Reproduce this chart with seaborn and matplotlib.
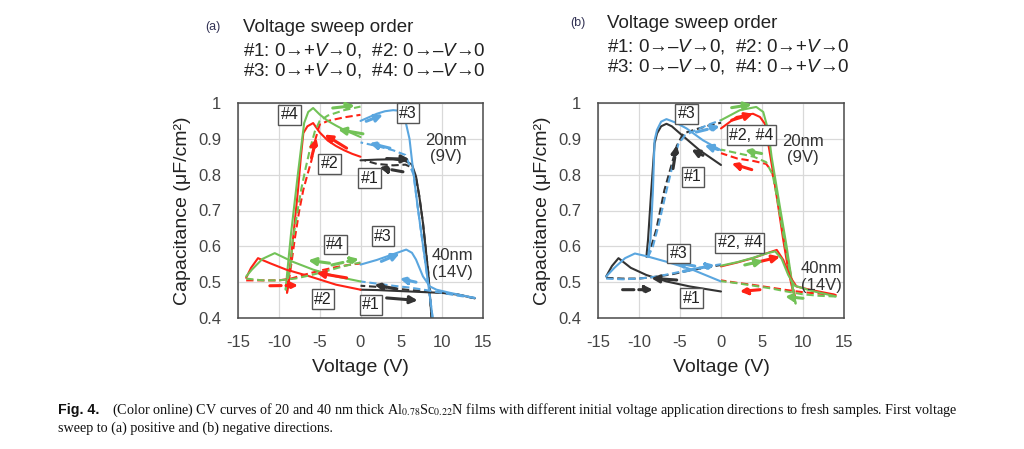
import matplotlib
matplotlib.use("Agg")
import matplotlib.pyplot as plt
import seaborn as sns

sns.set_theme(style="white")
plt.rcParams['font.family'] = ['Liberation Sans', 'DejaVu Sans']
plt.rcParams['axes.unicode_minus'] = False
plt.rcParams['mathtext.fontset'] = 'custom'
plt.rcParams['mathtext.rm'] = 'Liberation Sans'
plt.rcParams['mathtext.it'] = 'Liberation Sans:italic'

# colours of the sweeps #1..#4
col = {'k': '#333333', 'r': '#ff2215', 'b': '#5aa6df', 'g': '#72c257'}

# ---------------- panel (a) data ----------------
# each curve: forward sweep (solid) then return sweep (dashed)
a_curves = [
    # 20 nm, #1 black 0->+9->0
    ('k', [0, 2, 4, 5.5, 6.3, 6.8, 7.2, 7.65, 8.0, 8.3, 8.7, 9.0],
          [0.84, 0.842, 0.843, 0.838, 0.828, 0.795, 0.74, 0.665, 0.59, 0.526, 0.40, 0.34],
          [9.0, 8.7, 8.3, 7.65, 7.2, 6.8, 6.3, 5.5, 4, 2, 0.5],
          [0.34, 0.40, 0.526, 0.665, 0.74, 0.79, 0.82, 0.828, 0.826, 0.83, 0.84]),
    # 20 nm, #2 red 0->-9->0
    ('r', [0, -1, -2, -3, -4, -5, -5.8, -6.5, -7.0, -7.3, -7.65, -8.27, -8.7, -9.0],
          [0.85, 0.858, 0.868, 0.88, 0.895, 0.918, 0.944, 0.935, 0.916, 0.85, 0.758, 0.619, 0.53, 0.47],
          [-9.0, -8.6, -8.06, -7.5, -7.0, -6.5, -6.0, -5.5, -5.0, -4, -2, 0],
          [0.47, 0.53, 0.619, 0.70, 0.758, 0.80, 0.84, 0.90, 0.94, 0.95, 0.96, 0.967]),
    # 20 nm, #3 blue 0->+9->0
    ('b', [0, 1, 2, 3, 4, 5, 5.5, 6.0, 6.4, 7.0, 7.85, 8.5, 9.0],
          [0.95, 0.96, 0.97, 0.977, 0.98, 0.978, 0.95, 0.9, 0.82, 0.71, 0.57, 0.46, 0.37],
          [9.0, 8.5, 7.85, 7.0, 6.5, 5.5, 4, 2, 0],
          [0.37, 0.46, 0.57, 0.71, 0.80, 0.855, 0.868, 0.88, 0.89]),
    # 20 nm, #4 green 0->-9->0
    ('g', [0, -1, -2, -3, -4, -5, -5.8, -6.4, -6.9, -7.3, -7.65, -8.5, -8.9, -9.17],
          [0.905, 0.915, 0.925, 0.937, 0.95, 0.968, 0.986, 0.975, 0.944, 0.87, 0.805, 0.637, 0.544, 0.479],
          [-9.17, -8.6, -8.27, -7.7, -7.25, -6.7, -6.2, -5.6, -5.0, -4, -2, 0],
          [0.479, 0.54, 0.62, 0.70, 0.76, 0.82, 0.87, 0.92, 0.95, 0.965, 0.98, 0.99]),
    # 40 nm, #1 black 0->+14->0
    ('k', [0, 2, 4, 6, 8, 10, 12, 14],
          [0.479, 0.478, 0.476, 0.474, 0.472, 0.47, 0.465, 0.455],
          [14, 12, 10, 8, 6, 4, 2, 0],
          [0.455, 0.465, 0.47, 0.475, 0.478, 0.483, 0.487, 0.49]),
    # 40 nm, #2 red 0->-14->0
    ('r', [0, -3, -6.2, -9.1, -11.1, -12.55, -13.4, -14],
          [0.479, 0.493, 0.516, 0.535, 0.553, 0.567, 0.54, 0.512],
          [-14, -12, -10, -8.5, -7, -5, -3, -1, 0],
          [0.505, 0.505, 0.505, 0.51, 0.52, 0.532, 0.542, 0.55, 0.552]),
    # 40 nm, #3 blue 0->+14->0
    ('b', [0, 2, 4, 5.6, 6.3, 6.8, 7.65, 8.5, 9.3, 11, 14],
          [0.549, 0.562, 0.578, 0.591, 0.582, 0.563, 0.516, 0.488, 0.479, 0.47, 0.456],
          [14, 12, 10, 8, 6, 4, 2, 0],
          [0.456, 0.462, 0.47, 0.478, 0.485, 0.49, 0.496, 0.502]),
    # 40 nm, #4 green 0->-14->0
    ('g', [0, -3, -5.8, -8.3, -10.5, -12, -13.3, -14],
          [0.502, 0.516, 0.535, 0.557, 0.581, 0.565, 0.535, 0.516],
          [-14, -12, -10, -8, -6, -4, -2, 0],
          [0.51, 0.505, 0.505, 0.51, 0.52, 0.532, 0.545, 0.555]),
]

# arrows: colour, dashed?, start V, start C, end V, end C
a_arrows = [
    ('k', False, 3.2, 0.845, 6.0, 0.843), ('k', True, 5.2, 0.808, 2.3, 0.82),
    ('b', False, 0.7, 0.949, 2.75, 0.967), ('b', True, 3.6, 0.874, 1.1, 0.888),
    ('r', False, -1.7, 0.874, -4.4, 0.912), ('r', True, -6.0, 0.847, -5.4, 0.902),
    ('g', False, 0.3, 0.914, -2.75, 0.926), ('g', True, -3.4, 0.986, -0.7, 0.993),
    ('k', False, 3.2, 0.456, 7.0, 0.449), ('k', True, 4.4, 0.481, 1.7, 0.493),
    ('b', False, 2.55, 0.558, 4.8, 0.58), ('b', True, 6.8, 0.50, 4.8, 0.51),
    ('r', False, -1.7, 0.512, -5.4, 0.526), ('r', True, -11.1, 0.49, -7.65, 0.491),
    ('g', False, -3.8, 0.553, -6.4, 0.561), ('g', True, -3.5, 0.548, -0.2, 0.565),
]

a_boxes = [('#4', -8.7, 0.967), ('#3', 5.8, 0.972), ('#2', -3.8, 0.83), ('#1', 1.1, 0.79),
           ('#4', -3.1, 0.605), ('#3', 2.75, 0.628), ('#2', -4.6, 0.453), ('#1', 1.3, 0.437)]
a_notes = [('20nm\n(9V)', 10.5, 0.873), ('40nm\n(14V)', 11.3, 0.55)]

# ---------------- panel (b) data ----------------
b_curves = [
    # 20 nm, #1 black 0->-9->0
    ('k', [0, -2.6, -5, -6.0, -6.65, -7.3, -7.8, -8.1, -8.5, -8.9, -9.1],
          [0.827, 0.868, 0.915, 0.935, 0.942, 0.935, 0.915, 0.887, 0.757, 0.618, 0.571],
          [-9.1, -8.5, -7.9, -6.9, -6.0, -5.4, -4.6, -3, -1.5, 0],
          [0.571, 0.6, 0.646, 0.757, 0.83, 0.88, 0.915, 0.927, 0.937, 0.945]),
    # 20 nm, #2 red 0->+9->0
    ('r', [0, 1.9, 3.9, 4.75, 5.35, 5.76, 6.37, 6.98, 7.59, 8.2, 8.73, 9.0],
          [0.929, 0.961, 0.97, 0.961, 0.942, 0.887, 0.803, 0.711, 0.618, 0.534, 0.479, 0.46],
          [9.0, 8.5, 7.9, 7.3, 6.7, 6.2, 5.5, 4, 2, 0],
          [0.46, 0.52, 0.6, 0.68, 0.76, 0.81, 0.83, 0.838, 0.845, 0.86]),
    # 20 nm, #3 blue 0->-9->0
    ('b', [0, -2.2, -4.2, -5.5, -6.65, -7.3, -7.8, -8.1, -8.3, -8.6, -8.9],
          [0.868, 0.896, 0.929, 0.945, 0.955, 0.948, 0.925, 0.896, 0.757, 0.62, 0.57],
          [-8.9, -8.3, -7.6, -6.6, -5.8, -5.2, -4.4, -3, -1.5, 0],
          [0.57, 0.6, 0.66, 0.76, 0.835, 0.885, 0.91, 0.925, 0.94, 0.952]),
    # 20 nm, #4 green 0->+9->0
    ('g', [0, 2.3, 4.3, 5.15, 5.76, 6.17, 7.18, 8.0, 8.8, 9.1],
          [0.952, 0.98, 0.989, 0.975, 0.924, 0.85, 0.711, 0.6, 0.479, 0.44],
          [9.1, 8.6, 8.0, 7.4, 6.8, 6.3, 5.5, 4, 2, 0],
          [0.44, 0.5, 0.58, 0.66, 0.74, 0.8, 0.835, 0.85, 0.86, 0.87]),
    # 40 nm, #1 black 0->-14->0
    ('k', [0, -3.8, -6.65, -9.1, -11, -12.5, -13.3, -14],
          [0.474, 0.488, 0.502, 0.52, 0.54, 0.567, 0.545, 0.516],
          [-14, -12, -10, -8, -6, -4, -2, 0],
          [0.512, 0.51, 0.51, 0.515, 0.522, 0.532, 0.54, 0.548]),
    # 40 nm, #2 red 0->+14->0
    ('r', [0, 2, 3.9, 5.5, 6.8, 7.6, 8.4, 9.2, 11, 13.7, 14],
          [0.544, 0.555, 0.567, 0.58, 0.59, 0.562, 0.516, 0.488, 0.478, 0.466, 0.464],
          [14, 12, 10, 8, 6, 4, 2, 0],
          [0.464, 0.468, 0.472, 0.478, 0.485, 0.492, 0.498, 0.505]),
    # 40 nm, #3 blue 0->-14->0
    ('b', [0, -3.4, -6.65, -9, -10.5, -11.7, -13, -14],
          [0.502, 0.534, 0.557, 0.572, 0.58, 0.567, 0.54, 0.516],
          [-14, -12, -10, -8, -6, -4, -2, 0],
          [0.51, 0.508, 0.51, 0.515, 0.524, 0.534, 0.543, 0.55]),
    # 40 nm, #4 green 0->+14->0
    ('g', [0, 2, 3.9, 5.5, 6.6, 7.4, 8.2, 9.0, 11, 13.7, 14],
          [0.546, 0.556, 0.568, 0.58, 0.586, 0.565, 0.52, 0.49, 0.476, 0.462, 0.46],
          [14, 12, 10, 8, 6, 4, 2, 0],
          [0.46, 0.462, 0.466, 0.474, 0.483, 0.49, 0.497, 0.503]),
]

b_arrows = [
    ('k', False, -2.2, 0.854, -3.6, 0.87), ('k', True, -5.85, 0.817, -5.4, 0.882),
    ('b', False, -0.35, 0.87, -2.0, 0.882), ('b', True, -3.0, 0.919, -0.15, 0.935),
    ('r', False, 1.3, 0.952, 3.9, 0.97), ('r', True, 3.75, 0.814, 1.3, 0.831),
    ('g', False, 1.3, 0.987, 3.75, 0.996), ('g', True, 4.95, 0.859, 2.9, 0.868),
    ('k', False, -5.4, 0.506, -8.5, 0.511), ('k', True, -12.0, 0.479, -8.3, 0.479),
    ('b', False, -3.2, 0.545, -5.6, 0.555), ('b', True, -4.6, 0.53, -0.75, 0.548),
    ('r', False, 3.9, 0.553, 7.2, 0.571), ('r', True, 4.75, 0.479, 2.3, 0.474),
    ('g', False, 2.9, 0.548, 5.15, 0.56), ('g', True, 10.0, 0.455, 7.8, 0.46),
]

b_boxes = [('#3', -4.2, 0.97), ('#2, #4', 3.7, 0.91), ('#1', -3.4, 0.794),
           ('#3', -5.2, 0.58), ('#2, #4', 2.3, 0.61), ('#1', -3.6, 0.455)]
b_notes = [('20nm\n(9V)', 10.0, 0.87), ('40nm\n(14V)', 12.3, 0.515)]

x_ticks = [-15, -10, -5, 0, 5, 10, 15]
y_ticks = [0.4, 0.5, 0.6, 0.7, 0.8, 0.9, 1.0]
y_labels = ['0.4', '0.5', '0.6', '0.7', '0.8', '0.9', '1']

W, H = 1024, 449
fig = plt.figure(figsize=(W / 100, H / 100), dpi=100)


def draw_panel(rect, curves, arrows, boxes, notes):
    ax = fig.add_axes(rect)
    for c, vf, cf, vr, cr in curves:
        sns.lineplot(x=vf, y=cf, sort=False, estimator=None, color=col[c],
                     linewidth=1.5, ax=ax)
        sns.lineplot(x=vr, y=cr, sort=False, estimator=None, color=col[c],
                     linewidth=1.5, linestyle=(0, (3.5, 1.8)), ax=ax)
    for c, dsh, x0, y0, x1, y1 in arrows:
        ax.annotate('', xy=(x1, y1), xytext=(x0, y0),
                    arrowprops=dict(arrowstyle='-|>', color=col[c], lw=2.2,
                                    linestyle='--' if dsh else '-',
                                    mutation_scale=11, shrinkA=0, shrinkB=0))
    for t, x, y in boxes:
        ax.text(x, y, t, ha='center', va='center', fontsize=11.5, color='#222222',
                bbox=dict(boxstyle='square,pad=0.15', fc='white', ec='#555555', lw=1.0))
    for t, x, y in notes:
        ax.text(x, y, t, ha='center', va='center', fontsize=12, color='#333333',
                linespacing=1.15)
    ax.set_xlim(-15, 15)
    ax.set_ylim(0.4, 1.0)
    ax.set_xticks(x_ticks)
    ax.set_yticks(y_ticks)
    ax.set_yticklabels(y_labels)
    ax.tick_params(length=0, labelsize=12, colors='#444444', pad=12)
    ax.grid(True, color='#d9d9d9', lw=0.9)
    for s in ax.spines.values():
        s.set_color('#4a4a4a')
        s.set_linewidth(1.1)
    ax.set_xlabel('Voltage (V)', fontsize=14, color='#222222', labelpad=7)
    ax.set_ylabel('Capacitance (μF/cm²)', fontsize=14, color='#222222', labelpad=5)
    return ax


draw_panel([238 / W, 1 - 318 / H, 245 / W, 215 / H], a_curves, a_arrows, a_boxes, a_notes)
draw_panel([598 / W, 1 - 318 / H, 246 / W, 215 / H], b_curves, b_arrows, b_boxes, b_notes)

# headers
hdr = dict(fontsize=13.5, color='#222222', va='center', ha='left')
fig.text(205 / W, 1 - 27 / H, '(a)', fontsize=9, color='#333355', va='center')
fig.text(243 / W, 1 - 27 / H, 'Voltage sweep order', **hdr)
fig.text(243 / W, 1 - 50 / H, '#1: 0→+$V$→0,  #2: 0→–$V$→0', **hdr)
fig.text(243 / W, 1 - 71 / H, '#3: 0→+$V$→0,  #4: 0→–$V$→0', **hdr)
fig.text(570 / W, 1 - 23 / H, '(b)', fontsize=9, color='#333355', va='center')
fig.text(607 / W, 1 - 23 / H, 'Voltage sweep order', **hdr)
fig.text(607 / W, 1 - 46 / H, '#1: 0→–$V$→0,  #2: 0→+$V$→0', **hdr)
fig.text(607 / W, 1 - 67 / H, '#3: 0→–$V$→0,  #4: 0→+$V$→0', **hdr)

# caption
cap = dict(fontsize=10.2, color='#111111', va='center', ha='left',
           family=['Liberation Serif', 'DejaVu Serif'], math_fontfamily='stix')
fig.text(58 / W, 1 - 410 / H, 'Fig. 4.', weight='bold', fontsize=10.2, color='#111111',
         va='center', ha='left')
fig.text(112 / W, 1 - 410 / H,
         '(Color online) CV curves of 20 and 40 nm thick Al$_{0.78}$Sc$_{0.22}$N films with '
         'different initial voltage application directions to fresh samples. First voltage', **cap)
fig.text(58 / W, 1 - 428 / H, 'sweep to (a) positive and (b) negative directions.', **cap)

fig.savefig('out.png', dpi=100)
